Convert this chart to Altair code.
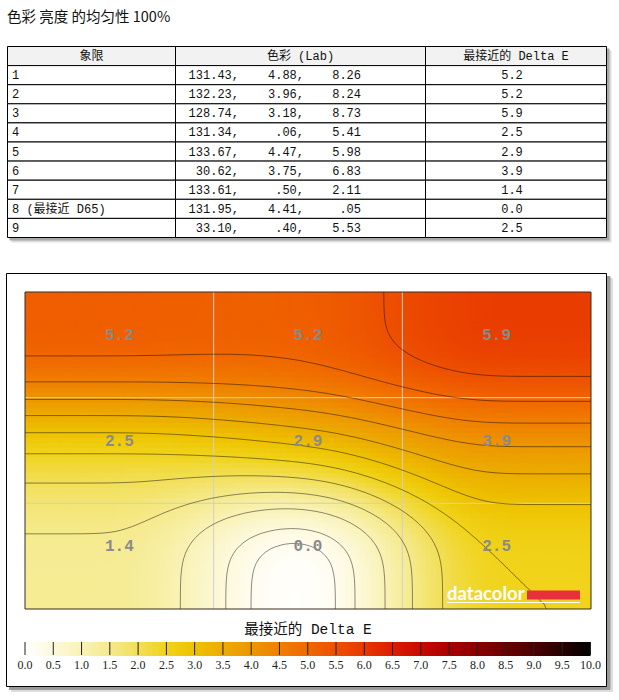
import numpy as np
import pandas as pd
import altair as alt

# ---------------- data ----------------
TITLE = "色彩 亮度 的均匀性 100%"
HEADERS = ["象限", "色彩 (Lab)", "最接近的 Delta E"]
QUADRANTS = ["1", "2", "3", "4", "5", "6", "7", "8 (最接近 D65)", "9"]
LAB_L = [131.43, 132.23, 128.74, 131.34, 133.67, 30.62, 133.61, 131.95, 33.10]
LAB_A = [4.88, 3.96, 3.18, 0.06, 4.47, 3.75, 0.50, 4.41, 0.40]
LAB_B = [8.26, 8.24, 8.73, 5.41, 5.98, 6.83, 2.11, 0.05, 5.53]
DELTA_E = [5.2, 5.2, 5.9, 2.5, 2.9, 3.9, 1.4, 0.0, 2.5]
LEGEND_TITLE = "最接近的 Delta E"
LEGEND_TICKS = [0.0, 0.5, 1.0, 1.5, 2.0, 2.5, 3.0, 3.5, 4.0, 4.5, 5.0,
                5.5, 6.0, 6.5, 7.0, 7.5, 8.0, 8.5, 9.0, 9.5, 10.0]
COLOR_RANGE = ["#ffffff", "#fdf9dc", "#f9f2b6", "#f5ea8c", "#f2df58", "#f0d31a",
               "#eec200", "#ecac00", "#ed9700", "#f07f00", "#f06700", "#ed5000",
               "#e83800", "#db1e00", "#c80a00", "#aa0000", "#8a0000", "#6a0000",
               "#4a0000", "#270000", "#000000"]

# ---------------- layout / style ----------------
W, H = 619, 700
MONO = "Liberation Mono, Noto Sans CJK SC"
CJK = "Noto Sans CJK SC"
TABLE_X = [7.5, 175.5, 425.5, 606.5]
TABLE_Y = [46.5, 237.5]           # header top .. last row bottom  (rows -1 .. 9)
LAB_RIGHT = [239, 304, 361]
DE_CENTER = 512
PLOT_X = [25, 591]
PLOT_Y = [292, 609]
FRAME_X = [6.5, 606.5]
FRAME_Y = [273.5, 686.5]
LEG_X = [25, 590.5]
LEG_BAR = [642, 656]

NOSC = dict(nice=False, zero=False)
xs_tab = alt.Scale(domain=[0, W], range=[0, W], **NOSC)
ys_tab = alt.Scale(domain=[-1, 9], range=TABLE_Y, **NOSC)
xs_px = alt.Scale(domain=[0, W], range=[0, W], **NOSC)
ys_px = alt.Scale(domain=[0, H], range=[0, H], **NOSC)
xs_h = alt.Scale(domain=[0, 3], range=PLOT_X, **NOSC)
ys_h = alt.Scale(domain=[0, 3], range=PLOT_Y, **NOSC)
xs_leg = alt.Scale(domain=[0, 10], range=LEG_X, **NOSC)
cscale = alt.Scale(domain=LEGEND_TICKS, range=COLOR_RANGE, interpolate="rgb")


def fmt(v):
    s = f"{v:.2f}"
    return s[1:] if s.startswith("0.") else s


layers = []

# ---------------- title ----------------
layers.append(alt.Chart(pd.DataFrame({"t": [TITLE]})).mark_text(
    align="left", baseline="alphabetic", font=CJK, fontSize=14.5, color="#111"
).encode(x=alt.value(7), y=alt.value(22), text="t:N"))

# ---------------- table ----------------
shadow = pd.DataFrame({
    "x": [TABLE_X[0] + 4, TABLE_X[0] + 2], "x2": [TABLE_X[-1] + 5, TABLE_X[-1] + 3],
    "y": [-1 + 4 / 19.1, -1 + 2 / 19.1], "y2": [9 + 5 / 19.1, 9 + 3 / 19.1],
    "c": ["#dddddd", "#a8a8a8"]})
layers.append(alt.Chart(shadow).mark_rect().encode(
    x=alt.X("x:Q", scale=xs_tab, axis=None), x2="x2:Q",
    y=alt.Y("y:Q", scale=ys_tab, axis=None), y2="y2:Q",
    fill=alt.Fill("c:N", scale=None)))

cells = pd.DataFrame([{"x": TABLE_X[c], "x2": TABLE_X[c + 1], "r": r, "r2": r + 1,
                       "f": "#f2f2f2" if r == -1 else "#ffffff"}
                      for r in range(-1, 9) for c in range(3)])
layers.append(alt.Chart(cells).mark_rect(stroke="#000", strokeWidth=1).encode(
    x=alt.X("x:Q", scale=xs_tab, axis=None), x2="x2:Q",
    y=alt.Y("r:Q", scale=ys_tab, axis=None), y2="r2:Q",
    fill=alt.Fill("f:N", scale=None)))

hdr = pd.DataFrame({"h": HEADERS, "xc": [(TABLE_X[i] + TABLE_X[i + 1]) / 2 for i in range(3)],
                    "r": [-0.5] * 3})
layers.append(alt.Chart(hdr).mark_text(font=MONO, fontSize=12, color="#111", baseline="middle").encode(
    x=alt.X("xc:Q", scale=xs_tab, axis=None), y=alt.Y("r:Q", scale=ys_tab, axis=None), text="h:N"))

rows = pd.DataFrame({
    "r": [i + 0.5 for i in range(9)], "q": QUADRANTS,
    "L": [fmt(v) + "," for v in LAB_L], "a": [fmt(v) + "," for v in LAB_A],
    "b": [fmt(v) for v in LAB_B], "de": [f"{v:.1f}" for v in DELTA_E]})
base_rows = alt.Chart(rows)
layers.append(base_rows.mark_text(font=MONO, fontSize=12, color="#111", align="left", baseline="middle").encode(
    x=alt.value(12), y=alt.Y("r:Q", scale=ys_tab, axis=None), text="q:N"))
for col, xr in zip(["L", "a", "b"], LAB_RIGHT):
    layers.append(base_rows.mark_text(font=MONO, fontSize=12, color="#111", align="right", baseline="middle").encode(
        x=alt.value(xr), y=alt.Y("r:Q", scale=ys_tab, axis=None), text=f"{col}:N"))
layers.append(base_rows.mark_text(font=MONO, fontSize=12, color="#111", align="center", baseline="middle").encode(
    x=alt.value(DE_CENTER), y=alt.Y("r:Q", scale=ys_tab, axis=None), text="de:N"))

# ---------------- heat-map frame ----------------
fr = pd.DataFrame({"x": [FRAME_X[0] + 5, FRAME_X[0] + 3, FRAME_X[0]],
                   "x2": [FRAME_X[1] + 6, FRAME_X[1] + 3.5, FRAME_X[1]],
                   "y": [FRAME_Y[0] + 5, FRAME_Y[0] + 3, FRAME_Y[0]],
                   "y2": [FRAME_Y[1] + 5, FRAME_Y[1] + 3, FRAME_Y[1]],
                   "c": ["#dddddd", "#9a9a9a", "#ffffff"],
                   "s": ["#dddddd", "#9a9a9a", "#000000"]})
layers.append(alt.Chart(fr).mark_rect(strokeWidth=1).encode(
    x=alt.X("x:Q", scale=xs_px, axis=None), x2="x2:Q",
    y=alt.Y("y:Q", scale=ys_px, axis=None), y2="y2:Q",
    fill=alt.Fill("c:N", scale=None), stroke=alt.Stroke("s:N", scale=None)))

# ---------------- interpolated field (C1 Hermite, flat beyond outer centres, softened) ----------------
GRID = np.array(DELTA_E, dtype=float).reshape(3, 3)
NX, NY = 113, 63
ue = np.linspace(0, 3, NX + 1)
ve = np.linspace(0, 3, NY + 1)


def herm_basis(t):
    t = np.clip(t, -1, 1)
    left = t < 0
    s = np.where(left, t + 1, t)
    h00 = 2 * s ** 3 - 3 * s ** 2 + 1
    h10 = s ** 3 - 2 * s ** 2 + s
    h01 = -2 * s ** 3 + 3 * s ** 2
    h11 = s ** 3 - s ** 2
    out = []
    for e in np.eye(3):
        y0, y1, y2 = e
        m0, m1, m2 = 0.0, (y2 - y0) / 2, 0.0
        ya = np.where(left, y0, y1)
        yb = np.where(left, y1, y2)
        ma = np.where(left, m0, m1)
        mb = np.where(left, m1, m2)
        out.append(h00 * ya + h10 * ma + h01 * yb + h11 * mb)
    return out


def field(u, v):
    bt = herm_basis(u - 1.5)
    bs = herm_basis(v - 1.5)
    out = 0
    for j in range(3):
        for i in range(3):
            out = out + bs[j] * bt[i] * GRID[j, i]
    return out


def blur(F, sigma):
    r = int(3 * sigma)
    k = np.exp(-0.5 * (np.arange(-r, r + 1) / sigma) ** 2)
    k /= k.sum()
    P = np.pad(F, ((0, 0), (r, r)), mode="reflect")
    F = np.stack([np.convolve(row, k, mode="valid") for row in P])
    P = np.pad(F, ((r, r), (0, 0)), mode="reflect")
    F = np.stack([np.convolve(col, k, mode="valid") for col in P.T]).T
    return F


UN, VN = np.meshgrid(ue, ve)
FN = blur(field(UN, VN), 4.0)
FC = (FN[:-1, :-1] + FN[:-1, 1:] + FN[1:, :-1] + FN[1:, 1:]) / 4
FV = np.clip(FC, 0, 10)
du, dv = 3 / NX, 3 / NY
heat = pd.DataFrame({
    "x": np.repeat(ue[:-1][None, :], NY, 0).ravel(),
    "x2": np.minimum(np.repeat(ue[1:][None, :], NY, 0).ravel() + 0.45 * du, 3),
    "y": np.repeat(ve[:-1][:, None], NX, 1).ravel(),
    "y2": np.minimum(np.repeat(ve[1:][:, None], NX, 1).ravel() + 0.45 * dv, 3),
    "val": FV.ravel().round(3)})
layers.append(alt.Chart(heat).mark_rect(strokeWidth=0).encode(
    x=alt.X("x:Q", scale=xs_h, axis=None), x2="x2:Q",
    y=alt.Y("y:Q", scale=ys_h, axis=None), y2="y2:Q",
    color=alt.Color("val:Q", scale=cscale, legend=None)))

# grid lines
grid_df = pd.DataFrame({"x": [1, 2, 0, 0], "x2": [1, 2, 3, 3], "y": [0, 0, 1, 2], "y2": [3, 3, 1, 2]})
layers.append(alt.Chart(grid_df).mark_rule(color="#cfcfcf", strokeWidth=1).encode(
    x=alt.X("x:Q", scale=xs_h, axis=None), x2="x2:Q",
    y=alt.Y("y:Q", scale=ys_h, axis=None), y2="y2:Q"))


# ---------------- contours (marching squares) ----------------
def contour_rows(F, levels):
    out = []
    lid = 0
    for L in levels:
        above = F >= L
        adj = {}

        def pt(key):
            kind, j, i = key
            if kind == "h":
                f1, f2 = F[j, i], F[j, i + 1]
                t = (L - f1) / (f2 - f1)
                return ue[i] + t * (ue[i + 1] - ue[i]), ve[j]
            f1, f2 = F[j, i], F[j + 1, i]
            t = (L - f1) / (f2 - f1)
            return ue[i], ve[j] + t * (ve[j + 1] - ve[j])

        tl, tr = above[:-1, :-1], above[:-1, 1:]
        br, bl = above[1:, 1:], above[1:, :-1]
        mixed = ~((tl == tr) & (tr == br) & (br == bl))
        for j, i in zip(*np.nonzero(mixed)):
            e = []
            if above[j, i] != above[j, i + 1]:
                e.append(("h", j, i))
            if above[j, i + 1] != above[j + 1, i + 1]:
                e.append(("v", j, i + 1))
            if above[j + 1, i] != above[j + 1, i + 1]:
                e.append(("h", j + 1, i))
            if above[j, i] != above[j + 1, i]:
                e.append(("v", j, i))
            pairs = [(e[0], e[1])] if len(e) == 2 else ([(e[0], e[1]), (e[2], e[3])] if len(e) == 4 else [])
            for a, b in pairs:
                adj.setdefault(a, []).append(b)
                adj.setdefault(b, []).append(a)
        visited = set()
        starts = [k for k, v in adj.items() if len(v) == 1] + list(adj.keys())
        for s in starts:
            if s in visited:
                continue
            chain = [s]
            visited.add(s)
            cur = s
            while True:
                nxt = [n for n in adj[cur] if n not in visited]
                if not nxt:
                    if len(chain) > 2 and s in adj[cur]:
                        chain.append(s)
                    break
                cur = nxt[0]
                visited.add(cur)
                chain.append(cur)
            for k, key in enumerate(chain):
                x, y = pt(key)
                out.append({"lid": lid, "k": k, "u": float(x), "v": float(y)})
            lid += 1
    return pd.DataFrame(out)


cont = contour_rows(FN, [0.25] + LEGEND_TICKS[1:-1])
layers.append(alt.Chart(cont).mark_line(color="#000", strokeOpacity=0.45, strokeWidth=1, clip=True).encode(
    x=alt.X("u:Q", scale=xs_h, axis=None), y=alt.Y("v:Q", scale=ys_h, axis=None),
    detail="lid:N", order="k:Q"))

# value labels
lab = pd.DataFrame({"u": [0.5, 1.5, 2.5] * 3, "v": [0.5] * 3 + [1.5] * 3 + [2.5] * 3,
                    "t": [f"{v:.1f}" for v in DELTA_E]})
layers.append(alt.Chart(lab).mark_text(font="Liberation Mono", fontSize=16, fontWeight="bold",
                                       color="#8a8a8a", baseline="middle", dy=-10).encode(
    x=alt.X("u:Q", scale=xs_h, axis=None), y=alt.Y("v:Q", scale=ys_h, axis=None), text="t:N"))

# plot border
layers.append(alt.Chart(pd.DataFrame({"x": [0], "x2": [3], "y": [0], "y2": [3]})).mark_rect(
    fillOpacity=0, stroke="#3a2a20", strokeWidth=1).encode(
    x=alt.X("x:Q", scale=xs_h, axis=None), x2="x2:Q",
    y=alt.Y("y:Q", scale=ys_h, axis=None), y2="y2:Q"))

# datacolor logo
layers.append(alt.Chart(pd.DataFrame({"t": ["datacolor"]})).mark_text(
    font="Lato", fontSize=18.5, fontWeight="bold", color="#ffffff", align="left",
    baseline="alphabetic").encode(
    x=alt.value(447), y=alt.value(600), text="t:N"))
layers.append(alt.Chart(pd.DataFrame({"a": [1]})).mark_rect(color="#e8303a").encode(
    x=alt.value(527), x2=alt.value(580), y=alt.value(590.5), y2=alt.value(599.5)))
layers.append(alt.Chart(pd.DataFrame({"a": [1]})).mark_rule(color="#ffffff", strokeWidth=1).encode(
    x=alt.value(447), x2=alt.value(580), y=alt.value(602.5)))

# ---------------- legend ----------------
steps = np.arange(0, 10, 0.05)
leg = pd.DataFrame({"lv": steps + 0.025, "x": steps, "x2": np.minimum(steps + 0.07, 10)})
layers.append(alt.Chart(leg).mark_rect(strokeWidth=0).encode(
    x=alt.X("x:Q", scale=xs_leg, axis=None), x2="x2:Q",
    y=alt.value(LEG_BAR[0]), y2=alt.value(LEG_BAR[1]),
    color=alt.Color("lv:Q", scale=cscale, legend=None)))
ticks = pd.DataFrame({"v": LEGEND_TICKS, "t": [f"{v:.1f}" for v in LEGEND_TICKS]})
layers.append(alt.Chart(ticks).mark_rule(color="#222", strokeWidth=1).encode(
    x=alt.X("v:Q", scale=xs_leg, axis=None), y=alt.value(LEG_BAR[0]), y2=alt.value(LEG_BAR[1] - 1)))
layers.append(alt.Chart(ticks).mark_text(font="Liberation Serif", fontSize=12, color="#222",
                                         baseline="middle").encode(
    x=alt.X("v:Q", scale=xs_leg, axis=None), y=alt.value(665), text="t:N"))
layers.append(alt.Chart(pd.DataFrame({"t": [LEGEND_TITLE]})).mark_text(
    font=MONO, fontSize=14.5, color="#111", baseline="middle").encode(
    x=alt.value(308), y=alt.value(630), text="t:N"))

chart = alt.layer(*layers).properties(
    width=W, height=H, padding=0, autosize=alt.AutoSizeParams(type="none")
).resolve_scale(x="independent", y="independent").configure_view(stroke=None)

chart.save("out.html", embed_options={"renderer": "svg", "actions": False})
